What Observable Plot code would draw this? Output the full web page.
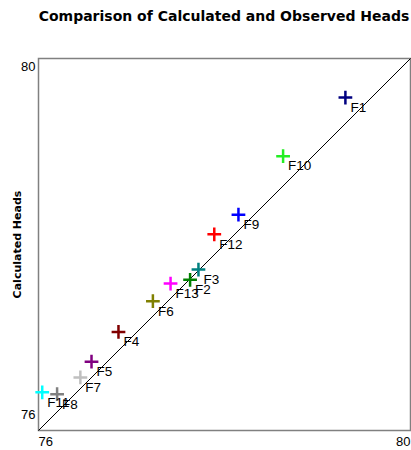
<!DOCTYPE html>
<html>
<head>
<meta charset="utf-8">
<script src="https://cdn.jsdelivr.net/npm/d3@7"></script>
<script src="https://cdn.jsdelivr.net/npm/@observablehq/plot@0.6"></script>
<style>
  html, body { margin: 0; padding: 0; background: #fff; width: 411px; height: 450px; overflow: hidden; }
  #title { position: relative; height: 44px; }
  #title div { position: absolute; left: 24px; width: 400px; top: 8px; text-align: center;
    font: bold 14px "DejaVu Sans", Verdana, sans-serif; color: #000; }
  svg { display: block; }
</style>
</head>
<body>
<div id="title"><div>Comparison of Calculated and Observed Heads</div></div>
<div id="chart"></div>
<script>
const names = ["F1","F10","F9","F12","F3","F2","F13","F6","F4","F5","F7","F8","F11"];
const observed = [79.30, 78.63, 78.15, 77.89, 77.72, 77.63, 77.42, 77.23, 76.86, 76.57, 76.45, 76.20, 76.04];
const calculated = [79.58, 78.95, 78.32, 78.11, 77.73, 77.62, 77.58, 77.39, 77.06, 76.74, 76.57, 76.39, 76.41];
const colors = ["#000080","#22ee22","#0000ff","#ff0000","#008080","#008000","#ff00ff","#808000","#800000","#800080","#c0c0c0","#808080","#00ffff"];
const ticks = [76, 80];
const yLabel = "Calculated Heads";

const data = names.map((n, i) => ({name: n, x: observed[i], y: calculated[i], c: colors[i]}));
const font = "'Liberation Sans', Arial, sans-serif";

const chart = Plot.plot({
  width: 411,
  height: 406,
  marginTop: 14,
  marginBottom: 20,
  marginLeft: 38,
  marginRight: 1,
  style: {fontFamily: font, background: "#fff"},
  x: {domain: [ticks[0], ticks[1]], axis: null},
  y: {domain: [ticks[0], ticks[1]], axis: null},
  marks: [
    Plot.frame({stroke: "#808080", strokeWidth: 1.5}),
    Plot.link([{x1: ticks[0], y1: ticks[0], x2: ticks[1], y2: ticks[1]}], {x1: "x1", y1: "y1", x2: "x2", y2: "y2", stroke: "#000", strokeWidth: 1}),
    // y tick labels
    Plot.text([ticks[1]], {x: ticks[0], y: d => d, text: d => String(d), textAnchor: "end", dx: -3, dy: 8, fontSize: 13, fill: "#000"}),
    Plot.text([ticks[0]], {x: ticks[0], y: d => d, text: d => String(d), textAnchor: "end", dx: -3, dy: -16, fontSize: 13, fill: "#000"}),
    // x tick labels
    Plot.text([ticks[0]], {x: d => d, y: ticks[0], text: d => String(d), textAnchor: "start", dy: 11, fontSize: 13, fill: "#000"}),
    Plot.text([ticks[1]], {x: d => d, y: ticks[0], text: d => String(d), textAnchor: "end", dy: 11, fontSize: 13, fill: "#000"}),
    // y label
    Plot.text([yLabel], {x: ticks[0], y: (ticks[0] + ticks[1]) / 2, text: d => d, rotate: -90, dx: -21, fontSize: 11, fontWeight: "bold", fontFamily: "'DejaVu Sans', Verdana, sans-serif", fill: "#000"}),
    // points
    Plot.dot(data, {x: "x", y: "y", symbol: "plus", r: 4.5, stroke: "c", strokeWidth: 2.5}),
    Plot.text(data, {x: "x", y: "y", text: "name", textAnchor: "start", dx: 5, dy: 10, fontSize: 13.5, fill: "#000"})
  ]
});
document.getElementById("chart").appendChild(chart);
</script>
</body>
</html>
